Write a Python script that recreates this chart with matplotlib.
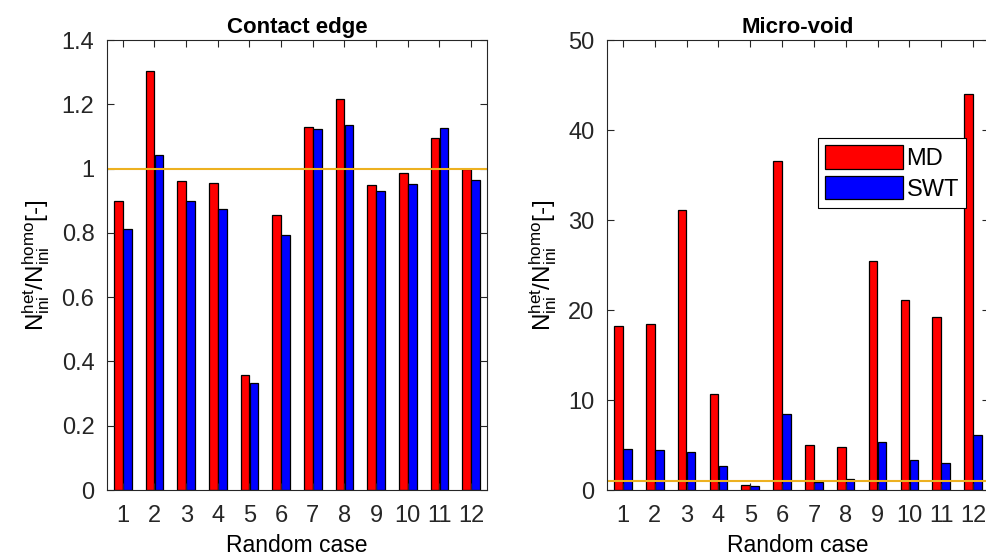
import matplotlib
matplotlib.use("Agg")
import matplotlib.pyplot as plt
import numpy as np

plt.rcParams.update({
    'font.family': ['Liberation Sans', 'DejaVu Sans'],
    'font.size': 16,
    'mathtext.fontset': 'custom',
    'mathtext.rm': 'Liberation Sans',
    'mathtext.it': 'Liberation Sans:italic',
    'axes.linewidth': 0.8,
    'axes.edgecolor': '#262626',
    'xtick.color': '#262626',
    'ytick.color': '#262626',
    'xtick.direction': 'in',
    'ytick.direction': 'in',
})

cases = np.arange(1, 13)
case_labels = [str(c) for c in cases]

# Contact edge
ce_md = [0.899, 1.303, 0.961, 0.956, 0.358, 0.856, 1.130, 1.215, 0.948, 0.986, 1.095, 0.998]
ce_swt = [0.811, 1.043, 0.899, 0.873, 0.334, 0.793, 1.124, 1.136, 0.929, 0.951, 1.127, 0.964]

# Micro-void
mv_md = [18.2, 18.5, 31.1, 10.7, 0.56, 36.6, 5.04, 4.74, 25.4, 21.1, 19.2, 44.0]
mv_swt = [4.6, 4.4, 4.26, 2.7, 0.44, 8.44, 0.93, 1.26, 5.33, 3.3, 3.0, 6.1]

RED = '#FF0000'
BLUE = '#0000FF'
ORANGE = '#EDB120'
W = 0.27
OFF = 0.14

fig = plt.figure(figsize=(9.87, 5.59), dpi=100)
ax1 = fig.add_axes([0.1084, 0.1234, 0.385, 0.805])
ax2 = fig.add_axes([0.615, 0.1234, 0.387, 0.805])

ylabel = r'$\mathrm{N_{ini}^{het}/N_{ini}^{homo}}$[-]'


def draw(ax, md, swt, ylim, yticks, ytl, title):
    ax.bar(cases - OFF, md, W, color=RED, edgecolor='black', linewidth=0.9, label='MD')
    ax.bar(cases + OFF, swt, W, color=BLUE, edgecolor='black', linewidth=0.9, label='SWT')
    ax.axhline(1.0, color=ORANGE, linewidth=1.5)
    ax.set_xlim(0.5, 12.5)
    ax.set_ylim(*ylim)
    ax.set_xticks(cases)
    ax.set_xticklabels(case_labels)
    ax.set_yticks(yticks)
    ax.set_yticklabels(ytl)
    ax.tick_params(top=True, right=True, length=5, width=0.8, pad=9, labelsize=17)
    ax.tick_params(axis='x', pad=11)
    ax.set_xlabel('Random case', fontsize=16.5, labelpad=5)
    ax.set_ylabel(ylabel, fontsize=17.5, labelpad=7)
    ax.set_title(title, fontsize=16, fontweight='bold', pad=5)


draw(ax1, ce_md, ce_swt, (0, 1.4), np.arange(0, 1.41, 0.2),
     ['0', '0.2', '0.4', '0.6', '0.8', '1', '1.2', '1.4'], 'Contact edge')
draw(ax2, mv_md, mv_swt, (0, 50), np.arange(0, 51, 10),
     ['0', '10', '20', '30', '40', '50'], 'Micro-void')

leg = ax2.legend(loc='upper left', bbox_to_anchor=(0.552, 0.782), borderaxespad=0,
                 fancybox=False, edgecolor='black', framealpha=1,
                 handlelength=3.3, handleheight=1.15, handletextpad=0.15,
                 labelspacing=0.25, borderpad=0.3, fontsize=17)
leg.get_frame().set_linewidth(0.8)

fig.savefig('out.png', dpi=100)
